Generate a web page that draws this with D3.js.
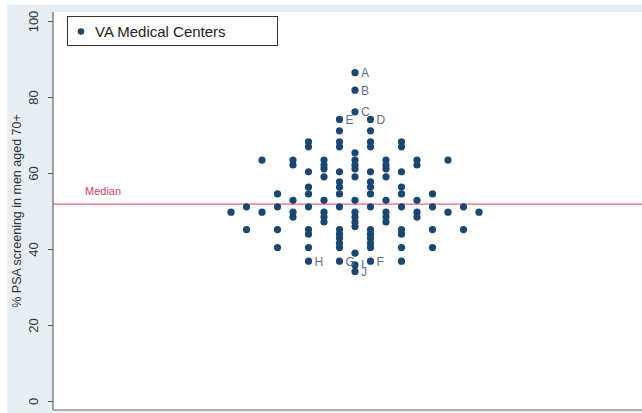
<!DOCTYPE html>
<html>
<head>
<meta charset="utf-8">
<script src="https://cdn.jsdelivr.net/npm/d3@7"></script>
<style>
  html, body { margin: 0; padding: 0; background: #ffffff; }
  svg { display: block; font-family: "Liberation Sans", Arial, sans-serif; }
</style>
</head>
<body>
<svg id="chart" width="642" height="413"></svg>
<script>
// Binned PSA screening rates (% of men aged 70+), one entry per dot row,
// and the number of medical centers falling in that row.
const rowValues = [86.4, 81.8, 76.1, 74.1, 71.1, 68.2, 66.9, 65.3, 63.4, 62.1,
                   61.1, 60.3, 59.0, 57.7, 56.3, 54.5, 52.8, 51.1, 49.7, 48.4,
                   47.1, 45.9, 45.1, 43.9, 42.8, 41.5, 40.4, 38.9, 36.8, 35.8, 34.1];
const rowCounts = [1, 1, 1, 2, 2, 4, 4, 1, 7, 5,
                   3, 4, 3, 2, 4, 6, 5, 8, 9, 5,
                   3, 1, 8, 4, 2, 2, 6, 1, 4, 1, 1];

// Lettered centers: row value and which dot (left to right) in that row.
const labelText  = ["A", "B", "C", "D", "E", "F", "G", "H", "I", "J"];
const labelValue = [86.4, 81.8, 76.1, 74.1, 74.1, 36.8, 36.8, 36.8, 35.8, 34.1];
const labelSlot  = [0, 0, 0, 1, 0, 2, 1, 0, 0, 0];

const yTicks = [0, 20, 40, 60, 80, 100];
const medianValue = 51.8;
const legendLabel = "VA Medical Centers";
const yTitle = "% PSA screening in men aged 70+";

const W = 642, H = 413;
const plot = { left: 53, top: 12, right: 642, bottom: 410 };
const dotColor = "#1a476f";

const svg = d3.select("#chart");

// backgrounds
svg.append("rect").attr("x", 7).attr("y", 5).attr("width", W - 7).attr("height", H - 5)
  .attr("fill", "#e8eff2");
svg.append("rect").attr("x", plot.left).attr("y", plot.top)
  .attr("width", plot.right - plot.left).attr("height", plot.bottom - plot.top)
  .attr("fill", "#ffffff");

const y = d3.scaleLinear().domain([0, 100]).range([401, 21]);
// horizontal slot offsets: a row of n dots sits at offsets -(n-1) .. (n-1), step 2
const x = d3.scaleLinear().domain([-8, 8]).range([231, 479]);

// flatten rows into dots
const dots = [];
rowValues.forEach((v, r) => {
  const n = rowCounts[r];
  for (let i = 0; i < n; i++) {
    dots.push({ value: v, offset: 2 * i - (n - 1), row: r, slot: i });
  }
});

// median reference line
svg.append("line")
  .attr("x1", plot.left).attr("x2", plot.right)
  .attr("y1", y(medianValue)).attr("y2", y(medianValue))
  .attr("stroke", "#e8637a").attr("stroke-width", 1.2);
svg.append("text")
  .attr("x", 85).attr("y", y(medianValue) - 9)
  .attr("fill", "#d9405e").attr("font-size", 11)
  .text("Median");

// dots
svg.append("g").selectAll("circle").data(dots).join("circle")
  .attr("cx", d => x(d.offset))
  .attr("cy", d => y(d.value))
  .attr("r", 3.6)
  .attr("fill", dotColor);

// letter labels to the right of their dots
svg.append("g").selectAll("text").data(labelText).join("text")
  .attr("x", (t, i) => {
    const r = rowValues.indexOf(labelValue[i]);
    const n = rowCounts[r];
    return x(2 * labelSlot[i] - (n - 1)) + 6;
  })
  .attr("y", (t, i) => y(labelValue[i]) + 4.5)
  .attr("fill", "#56708f").attr("font-size", 12)
  .text(t => t);

// y axis
const yAxis = d3.axisLeft(y).tickValues(yTicks).tickSize(5).tickPadding(4);
const gy = svg.append("g").attr("transform", `translate(${plot.left},0)`).call(yAxis);
gy.select(".domain").remove();
gy.selectAll(".tick line").attr("stroke", "#555");
gy.selectAll(".tick text")
  .attr("font-size", 13).attr("fill", "#333")
  .attr("font-family", "Liberation Sans, Arial, sans-serif")
  .attr("transform", "rotate(-90)")
  .attr("x", 0).attr("y", -15)
  .attr("dy", "0")
  .attr("text-anchor", "middle");

// axis frame lines
svg.append("line").attr("x1", plot.left).attr("x2", plot.left)
  .attr("y1", plot.top).attr("y2", plot.bottom).attr("stroke", "#666").attr("stroke-width", 1.2);
svg.append("line").attr("x1", plot.left).attr("x2", plot.right)
  .attr("y1", plot.bottom).attr("y2", plot.bottom).attr("stroke", "#666").attr("stroke-width", 1.2);

// y title
svg.append("text")
  .attr("transform", `translate(21,${(plot.top + plot.bottom) / 2}) rotate(-90)`)
  .attr("text-anchor", "middle").attr("font-size", 12.5).attr("fill", "#333")
  .text(yTitle);

// legend
const lg = svg.append("g");
lg.append("rect").attr("x", 67.5).attr("y", 16.5).attr("width", 210).attr("height", 29)
  .attr("fill", "#fff").attr("stroke", "#333").attr("stroke-width", 1);
lg.append("circle").attr("cx", 81).attr("cy", 31.5).attr("r", 3.3).attr("fill", dotColor);
lg.append("text").attr("x", 95).attr("y", 37).attr("font-size", 15).attr("fill", "#222")
  .text(legendLabel);
</script>
</body>
</html>
